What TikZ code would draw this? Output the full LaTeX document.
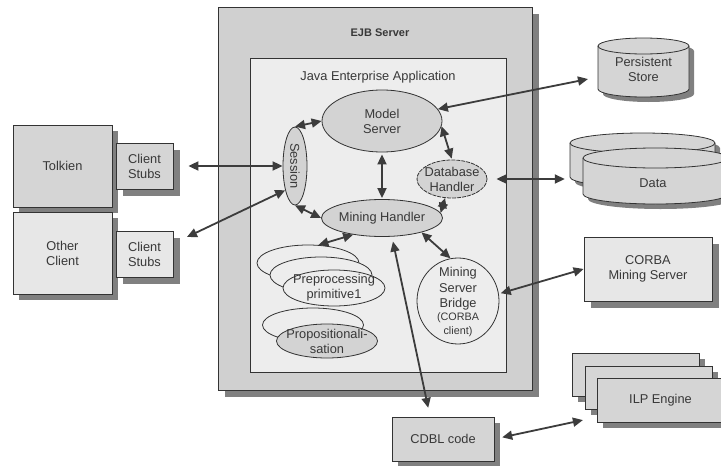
\documentclass[tikz,border=0pt]{standalone}
\usepackage{fontspec}
\setmainfont{Liberation Sans}
\usepackage{graphicx}
\usetikzlibrary{shapes.geometric,shadows,arrows.meta}

\definecolor{linecol}{HTML}{333333}
\definecolor{textcol}{HTML}{383838}
\definecolor{arrowcol}{HTML}{3C3C3C}
\definecolor{shadowcol}{HTML}{808080}
\definecolor{servergray}{HTML}{D0D0D0}
\definecolor{appgray}{HTML}{EDEDED}
\definecolor{boxgray}{HTML}{D5D5D5}
\definecolor{lightbox}{HTML}{E7E7E7}
\definecolor{ovalfill}{HTML}{D3D3D3}

% vertical drum: centre x, half width, top cap y, bottom cap y, cap radius, shadow offset
\newcommand\drum[6]{%
  \fill[shadowcol] ({#1-#2+#6},{#3-#6}) -- ({#1-#2+#6},{#4-#6})
    arc[start angle=180,end angle=360,x radius=#2pt,y radius=#5pt]
    -- ({#1+#2+#6},{#3-#6})
    arc[start angle=0,end angle=180,x radius=#2pt,y radius=#5pt] -- cycle;
  \draw[linecol, line width=0.8pt, fill=boxgray] ({#1-#2},{#3}) -- ({#1-#2},{#4})
    arc[start angle=180,end angle=360,x radius=#2pt,y radius=#5pt]
    -- ({#1+#2},{#3})
    arc[start angle=0,end angle=180,x radius=#2pt,y radius=#5pt] -- cycle;
  \draw[linecol, line width=0.8pt] ({#1-#2},{#3})
    arc[start angle=180,end angle=360,x radius=#2pt,y radius=#5pt];
}

\tikzset{
  txt/.style={font=\fontsize{12.8}{15}\selectfont, text=textcol, align=center, inner sep=0pt},
  box/.style={draw=linecol, line width=0.8pt, align=center, inner sep=2pt,
    font=\fontsize{12.8}{15}\selectfont, text=textcol},
  castshadow/.style={general shadow={fill=shadowcol, shadow xshift=#1, shadow yshift=-#1}},
  castshadow/.default=7pt,
  oval/.style={ellipse, draw=linecol, line width=0.8pt, fill=ovalfill, inner sep=0pt},
  biarrow/.style={draw=arrowcol, line width=1.8pt,
    {Triangle[length=10pt,width=9pt]}-{Triangle[length=10pt,width=9pt]}},
}

\begin{document}
\begin{tikzpicture}[x=1pt,y=1pt]
\useasboundingbox (0,0) rectangle (721,-466);
\fill[white] (0,0) rectangle (721,-466);

% EJB server and the application inside it
\node[box, castshadow, fill=servergray, minimum width=314pt, minimum height=383pt] (ejb) at (375,-198.5) {};
\node[font=\bfseries\fontsize{11}{13}\selectfont, text=textcol] (ejblabel) at (380,-33) {EJB Server};
\node[box, fill=appgray, minimum width=256pt, minimum height=314pt] (jea) at (378,-215) {};
\node[txt] (jealabel) at (378,-77) {Java Enterprise Application};

% components of the application
\node[oval, minimum width=120pt, minimum height=62pt] (modelsrv) at (382,-121) {};
\node[txt] (modelsrvtxt) at (modelsrv) {Model\\Server};
\node[oval, minimum width=24pt, minimum height=78pt] (session) at (295,-166) {};
\node[txt, rotate=-90] (sessiontxt) at (session) {Session};
\node[oval, dash pattern=on 4pt off 1pt, minimum width=70pt, minimum height=38pt] (dbh) at (452,-179) {};
\node[txt] (dbhtxt) at (dbh) {Database\\Handler};
\node[oval, minimum width=121pt, minimum height=37pt] (mh) at (382,-218) {};
\node[txt] (mhtxt) at (mh) {Mining Handler};

\node[oval, fill=appgray, minimum width=102pt, minimum height=36pt] (prepA) at (308,-263) {};
\node[oval, fill=appgray, minimum width=102pt, minimum height=36pt] (prepB) at (321,-275) {};
\node[oval, fill=appgray, minimum width=102pt, minimum height=36pt] (prepC) at (334,-288) {};
\node[txt] (prepCtxt) at (prepC) {Preprocessing\\primitive1};

\node[oval, fill=appgray, minimum width=101pt, minimum height=34pt] (propA) at (313,-325) {};
\node[oval, minimum width=101pt, minimum height=34pt] (propB) at (327,-341) {};
\node[txt] (propBtxt) at (propB) {Propositionali-\\sation};

\node[oval, fill=appgray, minimum width=82pt, minimum height=86pt] (msb) at (458,-301) {};
\node[txt, font=\fontsize{12.8}{15.5}\selectfont] (msbtxt) at (458,-289) {Mining\\Server\\Bridge};
\node[txt, font=\fontsize{10.8}{14}\selectfont] (msbnote) at (458,-325) {(CORBA\\client)};

% clients
\node[box, castshadow=6pt, fill=boxgray, minimum width=99pt, minimum height=82pt] (tolkien) at (62.5,-166) {Tolkien};
\node[box, castshadow=6pt, fill=lightbox, minimum width=99pt, minimum height=82pt] (other) at (62.5,-253) {Other\\Client};
\node[box, castshadow, fill=boxgray, minimum width=57pt, minimum height=46pt] (stubsA) at (144.5,-166) {Client\\Stubs};
\node[box, castshadow, fill=lightbox, minimum width=57pt, minimum height=46pt] (stubsB) at (144.5,-254) {Client\\Stubs};

% stores
\drum{643.5}{45.5}{-46}{-89}{8}{5}
\node[txt, minimum width=91pt, minimum height=59pt] (pstore) at (643.5,-69) {Persistent\\Store};
\drum{642.5}{72.5}{-143}{-177}{10}{5}
\drum{655.5}{72.5}{-158}{-194}{10}{5}
\node[minimum width=145pt, minimum height=54pt, inner sep=0pt] (databack) at (642.5,-159) {};
\node[txt] (datatxt) at (653,-183) {Data};

% external servers and code
\node[box, castshadow, fill=lightbox, minimum width=128pt, minimum height=64pt] (corba) at (648,-269) {CORBA\\Mining Server};
\node[box, castshadow=6pt, fill=boxgray, minimum width=127pt, minimum height=43pt] (ilpA) at (635.5,-374.5) {};
\node[box, castshadow=6pt, fill=boxgray, minimum width=127pt, minimum height=43pt] (ilpB) at (648.5,-387.5) {};
\node[box, castshadow=6pt, fill=boxgray, minimum width=127pt, minimum height=44pt] (ilpC) at (660.5,-400) {ILP Engine};
\node[box, castshadow=6pt, fill=boxgray, minimum width=102pt, minimum height=44pt] (cdbl) at (443,-439) {CDBL code};

% connectors
\draw[biarrow, shorten <=15pt] (stubsA.east) -- (session.west);
\draw[biarrow, shorten <=15pt] (stubsB.20) -- (session.248);
\draw[biarrow] (session.north) -- (modelsrv.west);
\draw[biarrow, shorten <=2pt, shorten >=1pt] (modelsrv.south) -- (mh.north);
\draw[biarrow] (session.south) -- (mh.west);
\draw[biarrow, shorten >=1pt] (modelsrv.-5) -- (dbh.north);
\draw[biarrow] (mh.5) -- (dbh.250);
\draw[biarrow, shorten >=10pt] (modelsrv.12) -- (pstore.190);
\draw[biarrow, shorten <=9pt, shorten >=5pt] (dbh.east) -- (dbh.east -| databack.west);
\draw[biarrow] (mh.-20) -- (msb.100);
\draw[biarrow] (prepA.60) -- (mh.210);
\draw[biarrow, shorten <=5pt, shorten >=9pt] (mh.-62) -- (cdbl.120);
\draw[biarrow, shorten <=2pt] (msb.10) -- (corba.west);
\draw[biarrow, shorten <=8pt, shorten >=14pt] (cdbl.east) -- (ilpC.195);
\end{tikzpicture}
\end{document}
